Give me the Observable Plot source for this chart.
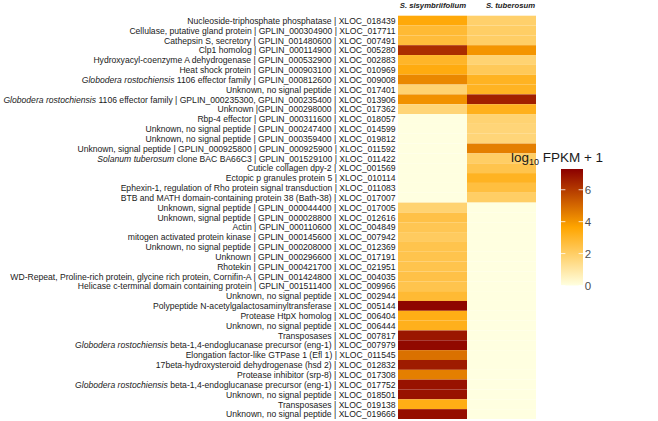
<!DOCTYPE html>
<html>
<head>
<meta charset="utf-8">
<script src="https://cdn.jsdelivr.net/npm/d3@7"></script>
<script src="https://cdn.jsdelivr.net/npm/@observablehq/plot@0.6"></script>
<style>
  html, body { margin: 0; padding: 0; background: #fff; }
  #chart { position: relative; width: 658px; height: 421px; font-family: "Liberation Sans", Arial, sans-serif; }
  #chart svg { display: block; }
</style>
</head>
<body>
<div id="chart"></div>
<script>
const species = ["S. sisymbriifolium", "S. tuberosum"];

const genes = [
  "Nucleoside-triphosphate phosphatase | XLOC_018439",
  "Cellulase, putative gland protein | GPLIN_000304900 | XLOC_017711",
  "Cathepsin S, secretory | GPLIN_001480600 | XLOC_007491",
  "Clp1 homolog | GPLIN_000114900 | XLOC_005280",
  "Hydroxyacyl-coenzyme A dehydrogenase | GPLIN_000532900 | XLOC_002883",
  "Heat shock protein | GPLIN_000903100 | XLOC_010969",
  "Globodera rostochiensis 1106 effector family | GPLIN_000812600 | XLOC_009008",
  "Unknown, no signal peptide | XLOC_017401",
  "Globodera rostochiensis 1106 effector family | GPLIN_000235300, GPLIN_000235400 | XLOC_013906",
  "Unknown |GPLIN_000298000 | XLOC_017362",
  "Rbp-4 effector | GPLIN_000311600 | XLOC_018057",
  "Unknown, no signal peptide | GPLIN_000247400 | XLOC_014599",
  "Unknown, no signal peptide | GPLIN_000359400 | XLOC_019812",
  "Unknown, signal peptide | GPLIN_000925800 | GPLIN_000925900 | XLOC_011592",
  "Solanum tuberosum clone BAC BA66C3 | GPLIN_001529100 | XLOC_011422",
  "Cuticle collagen dpy-2 | XLOC_001569",
  "Ectopic p granules protein 5 | XLOC_010114",
  "Ephexin-1, regulation of Rho protein signal transduction | XLOC_011083",
  "BTB and MATH domain-containing protein 38 (Bath-38) | XLOC_017007",
  "Unknown, signal peptide | GPLIN_000044400 | XLOC_017005",
  "Unknown, signal peptide | GPLIN_000028800 | XLOC_012616",
  "Actin | GPLIN_000110600 | XLOC_004849",
  "mitogen activated protein kinase | GPLIN_000145600 | XLOC_007942",
  "Unknown, no signal peptide | GPLIN_000208000 | XLOC_012369",
  "Unknown | GPLIN_000296600 | XLOC_017191",
  "Rhotekin | GPLIN_000421700 | XLOC_021951",
  "WD-Repeat, Proline-rich protein, glycine rich protein, Cornifin-A | GPLIN_001424800 | XLOC_004035",
  "Helicase c-terminal domain containing protein | GPLIN_001511400 | XLOC_009966",
  "Unknown, no signal peptide | XLOC_002944",
  "Polypeptide N-acetylgalactosaminyltransferase | XLOC_005144",
  "Protease HtpX homolog | XLOC_006404",
  "Unknown, no signal peptide | XLOC_006444",
  "Transposases | XLOC_007817",
  "Globodera rostochiensis beta-1,4-endoglucanase precursor (eng-1) | XLOC_007979",
  "Elongation factor-like GTPase 1 (Efl 1) | XLOC_011545",
  "17beta-hydroxysteroid dehydrogenase (hsd 2) | XLOC_012832",
  "Protease inhibitor (srp-8) | XLOC_017308",
  "Globodera rostochiensis beta-1,4-endoglucanase precursor (eng-1) | XLOC_017752",
  "Unknown, no signal peptide | XLOC_018501",
  "Transposases | XLOC_019138",
  "Unknown, no signal peptide | XLOC_019666"
];

// log10 FPKM + 1
const sisymbriifolium = [
  3.5, 2.8, 2.7, 6.3, 3.0, 3.4, 4.3, 1.8, 4.1, 1.7,
  0.0, 0.0, 0.0, 0.0, 0.0, 0.0, 0.0, 0.0, 0.0,
  1.8, 2.5, 2.3, 2.1, 2.4, 2.4, 2.4, 2.5, 2.4, 2.8,
  7.2, 3.3, 3.2, 6.8, 7.1, 4.8, 6.7, 4.5, 6.9, 6.9, 3.3, 7.0
];
const tuberosum = [
  1.9, 2.0, 2.0, 4.0, 1.8, 2.2, 3.1, 3.1, 6.6, 3.2,
  1.8, 1.7, 1.7, 4.5, 2.0, 2.4, 3.1, 2.6, 2.0,
  0.0, 0.0, 0.0, 0.0, 0.0, 0.0, 0.0, 0.0, 0.0, 0.0,
  0.0, 0.0, 0.0, 0.0, 0.0, 0.0, 0.0, 0.0, 0.0, 0.0, 0.0, 0.0
];

const legendTicks = [0, 2, 4, 6];
const colorMax = 7.3;
const colorStops = ["#FFFFE0", "#FFA500", "#8B0000"];

const table = genes.flatMap((g, i) => [
  {gene: g, species: species[0], value: sisymbriifolium[i]},
  {gene: g, species: species[1], value: tuberosum[i]}
]);

const interp = d3.piecewise(d3.interpolateRgb, colorStops);

const plot = Plot.plot({
  width: 658,
  height: 421,
  marginLeft: 398,
  marginRight: 122,
  marginTop: 15.7,
  marginBottom: 2,
  style: {fontFamily: "Liberation Sans, Arial, sans-serif", background: "#fff"},
  x: {domain: species, padding: 0, axis: null, label: null},
  y: {domain: genes, padding: 0, axis: null, label: null},
  color: {type: "linear", domain: [0, colorMax], interpolate: interp},
  marks: [
    Plot.cell(table, {x: "species", y: "gene", fill: "value", inset: 0}),
    Plot.axisX({anchor: "top", tickSize: 0, tickPadding: 8, textAnchor: "end", dx: 33, label: null,
      fontWeight: "bold", fontStyle: "italic", fontSize: 7.7, fill: "#1a1a1a"}),
    Plot.axisY({anchor: "left", tickSize: 0, tickPadding: 3, fontSize: 8.6, label: null, fill: "#1a1a1a"})
  ]
});

document.getElementById("chart").appendChild(plot);

// italic genus/species names inside labels
const italicPrefixes = ["Globodera rostochiensis", "Solanum tuberosum"];
d3.select(plot).selectAll('g[aria-label="y-axis tick label"] text').each(function() {
  const t = this.textContent;
  const p = italicPrefixes.find(s => t.startsWith(s));
  if (!p) return;
  const el = d3.select(this);
  el.text(null);
  el.append("tspan").attr("font-style", "italic").text(p);
  el.append("tspan").text(t.slice(p.length));
});

// vertical colour bar legend
const svg = d3.select(plot);
const bx = 561, bw = 22;
const ly = d3.scaleLinear().domain([0, colorMax]).range([285.5, 169]);
const defs = svg.append("defs");
const grad = defs.append("linearGradient").attr("id", "cbar").attr("x1", 0).attr("x2", 0).attr("y1", 1).attr("y2", 0);
d3.range(0, 1.0001, 0.05).forEach(t => grad.append("stop").attr("offset", t).attr("stop-color", interp(t)));
const lg = svg.append("g");
lg.append("rect").attr("x", bx).attr("y", ly(colorMax)).attr("width", bw)
  .attr("height", ly(0) - ly(colorMax)).attr("fill", "url(#cbar)");
legendTicks.forEach(v => {
  lg.append("line").attr("x1", bx).attr("x2", bx + 4.4).attr("y1", ly(v)).attr("y2", ly(v))
    .attr("stroke", "#fff").attr("stroke-width", 0.8);
  lg.append("line").attr("x1", bx + bw - 4.4).attr("x2", bx + bw).attr("y1", ly(v)).attr("y2", ly(v))
    .attr("stroke", "#fff").attr("stroke-width", 0.8);
  lg.append("text").attr("x", bx + bw + 5).attr("y", ly(v)).attr("dy", "0.36em")
    .attr("font-size", 11.5).attr("fill", "#4d4d4d").text(v);
});
const title = lg.append("text").attr("x", 557).attr("y", 162).attr("font-size", 13.5).attr("fill", "#1a1a1a");
title.append("tspan").text("log");
title.append("tspan").attr("font-size", 9).attr("dy", 3).text("10");
title.append("tspan").attr("dy", -3).text(" FPKM + 1");
</script>
</body>
</html>
